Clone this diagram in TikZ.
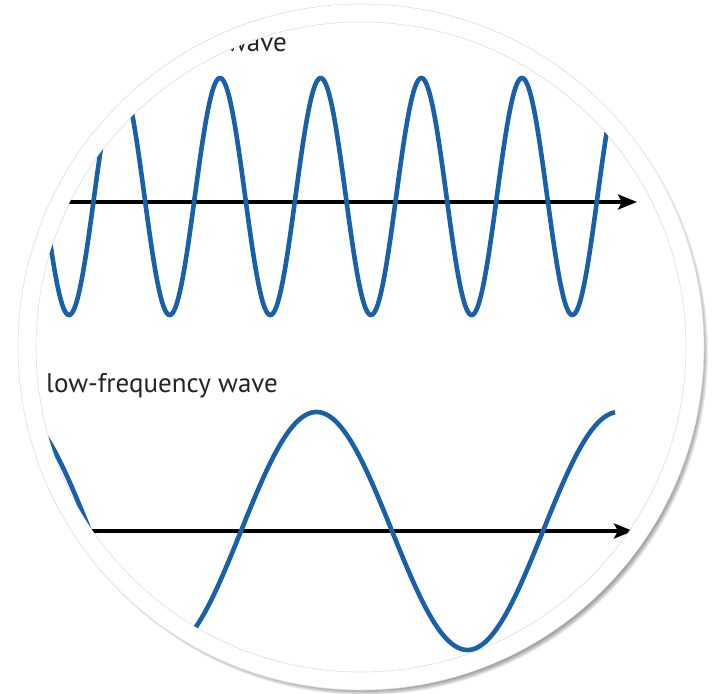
\documentclass[tikz,border=0pt]{standalone}
\usepackage{fontspec}
\setmainfont{PT Sans}
\usetikzlibrary{arrows.meta,calc}
\definecolor{waveblue}{RGB}{24,96,168}
\definecolor{labelgray}{RGB}{35,35,40}
\definecolor{rimgray}{RGB}{222,222,222}
\tikzset{
  wave/.style={waveblue,line width=4.6pt},
  axis/.style={-{Stealth[length=19pt,width=15pt,inset=4pt]},line width=3.4pt,black},
  wavelabel/.style={font=\fontsize{27}{30}\selectfont,text=labelgray,inner sep=0pt},
  rim/.style={draw=rimgray,line width=0.6pt}
}
\begin{document}
\begin{tikzpicture}[x=1pt,y=-1pt]
\useasboundingbox (0,0) rectangle (717,693);
\coordinate (centre) at (361,347);
% soft shadow of the disc
\foreach \r in {0,1,2,3,4,5}
  \fill[black,opacity=0.08] ($(centre)+(4,5)$) circle (343-\r);
\fill[white] (centre) circle (343);
\draw[rim] (centre) circle (343);
\draw[rim] (centre) circle (325);
\begin{scope}
\clip (centre) circle (325);
\node[wavelabel,anchor=base east] (highlabel) at (287,52) {high-frequency wave};
\node[wavelabel,anchor=base west] (lowlabel) at (46,392) {low-frequency wave};
\coordinate (highstart) at (30,202);
\coordinate (highend) at (637,202);
\coordinate (lowstart) at (30,531);
\coordinate (lowend) at (633,531);
\draw[axis] (highstart) -- (highend);
\draw[axis] (lowstart) -- (lowend);
% degrees per pixel: 360/100.67 and 360/302
\draw[wave] plot[domain=35:625,samples=500,smooth] (\x,{196.5-118.5*cos(3.576*(\x-220))});
\draw[wave] plot[domain=35:615,samples=400,smooth] (\x,{531-119*sin(1.19205*(\x-241))});
\end{scope}
\end{tikzpicture}
\end{document}
